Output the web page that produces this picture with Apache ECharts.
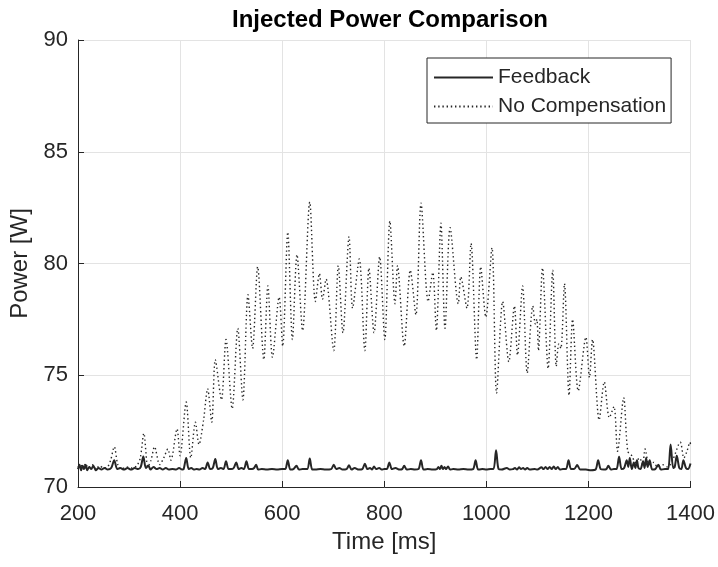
<!DOCTYPE html>
<html>
<head>
<meta charset="utf-8">
<script src="https://cdn.jsdelivr.net/npm/echarts@6/dist/echarts.min.js"></script>
<style>html,body{margin:0;padding:0;background:#fff}#c{width:718px;height:567px}</style>
</head>
<body>
<div id="c"></div>
<script>
const titleText = 'Injected Power Comparison';
const xName = 'Time [ms]';
const yName = 'Power [W]';
const seriesNames = ['Feedback', 'No Compensation'];
const xTicks = [200, 400, 600, 800, 1000, 1200, 1400];
const yTicks = [70, 75, 80, 85, 90];

const feedback = [
[200,70.8],[203,71.0],[206,70.75],[209,70.95],[212,70.8],[215,71.0],[218,70.75],[222,70.9],[226,70.8],[230,70.95],[235,70.75],[240,70.85],[246,70.78],[252,70.85],[258,70.78],[265,70.85],[271,71.2],[277,70.8],[283,70.85],[290,70.78],[297,70.85],[304,70.78],[311,70.85],[318,70.8],[323,70.9],[328,71.37],[333,70.85],[338,70.95],[342,70.78],[348,70.9],[354,70.8],[360,70.85],[366,70.78],[372,70.85],[378,70.78],[385,70.8],[392,70.78],[398,70.85],[404,70.78],[407,70.8],[412,71.3],[417,70.8],[422,70.85],[427,70.78],[432,70.8],[438,70.78],[444,70.85],[449,70.8],[454,71.1],[459,70.8],[464,70.85],[469,71.25],[474,70.8],[480,70.85],[485,70.8],[490,71.15],[495,70.8],[500,70.8],[505,70.85],[510,71.1],[515,70.8],[520,70.85],[525,70.8],[530,71.15],[535,70.8],[541,70.8],[545,70.85],[549,71.0],[553,70.78],[560,70.8],[570,70.78],[580,70.8],[590,70.78],[600,70.8],[606,70.8],[611,71.2],[616,70.78],[622,70.8],[628,70.95],[633,70.78],[640,70.8],[649,70.8],[654,71.27],[659,70.78],[665,70.78],[675,70.8],[685,70.78],[696,70.8],[701,71.0],[706,70.8],[712,70.85],[718,70.78],[726,70.8],[731,70.97],[736,70.78],[742,70.85],[750,70.78],[757,70.8],[762,71.04],[767,70.8],[772,70.85],[776,70.78],[780,70.92],[784,70.8],[790,70.85],[795,70.78],[800,70.8],[805,70.8],[810,71.1],[815,70.8],[822,70.85],[830,70.78],[835,70.8],[839,70.95],[844,70.78],[852,70.8],[860,70.78],[867,70.8],[872,71.2],[877,70.78],[885,70.8],[895,70.78],[903,70.8],[906,70.9],[909,70.8],[912,70.95],[915,70.8],[918,70.9],[921,70.8],[925,70.92],[929,70.78],[935,70.8],[945,70.78],[955,70.8],[965,70.78],[974,70.8],[979,71.2],[984,70.78],[992,70.8],[1000,70.78],[1008,70.8],[1014,70.8],[1019,71.64],[1024,70.8],[1030,70.78],[1040,70.85],[1046,70.78],[1052,70.8],[1056,70.85],[1060,70.78],[1064,70.88],[1068,70.8],[1072,70.85],[1076,70.78],[1080,70.85],[1085,70.78],[1095,70.8],[1100,70.78],[1108,70.88],[1112,70.8],[1116,70.9],[1120,70.8],[1124,70.9],[1128,70.8],[1132,70.92],[1136,70.8],[1140,70.9],[1144,70.78],[1150,70.8],[1156,70.8],[1161,71.2],[1166,70.8],[1172,70.8],[1178,70.98],[1184,70.78],[1195,70.78],[1205,70.75],[1214,70.78],[1219,71.2],[1224,70.8],[1230,70.78],[1235,70.8],[1239,70.95],[1244,70.78],[1250,70.8],[1255,70.8],[1260,71.35],[1265,70.8],[1270,70.85],[1275,71.2],[1278,70.9],[1281,71.3],[1285,70.8],[1289,71.1],[1292,70.85],[1295,71.2],[1298,70.85],[1302,70.8],[1307,71.15],[1310,70.85],[1313,71.3],[1316,70.9],[1320,71.2],[1325,70.78],[1331,70.8],[1337,71.0],[1342,70.78],[1350,70.8],[1356,70.8],[1361,71.9],[1366,70.85],[1369,70.9],[1373,71.4],[1378,70.85],[1382,70.8],[1386,71.2],[1391,70.85],[1395,70.8],[1400,71.05]
];

const noCompensation = [
[200,70.9],[205,71.0],[210,70.8],[215,71.05],[220,70.85],[228,71.0],[235,70.8],[242,70.95],[250,70.85],[258,70.9],[264,71.2],[271,71.8],[278,71.0],[285,70.8],[295,70.9],[305,70.85],[315,70.95],[322,71.3],[329,72.4],[337,70.9],[343,71.2],[350,71.8],[360,71.0],[368,71.3],[376,71.7],[382,71.2],[394,72.6],[400,71.4],[412,73.8],[421,71.3],[430,72.9],[437,71.9],[446,73.0],[454,74.4],[462,72.9],[469,75.7],[481,73.9],[490,76.6],[502,73.5],[513,77.1],[523,73.9],[533,78.6],[542,76.2],[552,79.85],[564,75.7],[572,79.0],[581,75.8],[594,78.5],[601,76.3],[611,81.4],[620,76.6],[629,80.4],[640,77.0],[654,82.75],[665,78.3],[673,79.55],[679,78.4],[686,79.3],[701,76.1],[710,79.9],[719,76.9],[731,81.2],[738,78.0],[751,80.2],[762,76.1],[770,79.8],[780,76.9],[791,80.3],[801,76.6],[811,81.9],[821,78.2],[826,79.9],[839,76.3],[851,79.7],[862,77.7],[872,82.7],[886,78.3],[895,79.6],[902,77.0],[911,81.8],[919,77.1],[929,81.6],[945,78.2],[950,79.4],[962,78.0],[970,80.9],[981,75.7],[989,79.85],[999,77.6],[1011,80.7],[1020,74.2],[1032,78.3],[1044,75.6],[1055,78.1],[1061,75.9],[1071,79.0],[1080,75.1],[1091,78.1],[1096,77.3],[1099,77.5],[1102,76.1],[1110,79.8],[1121,75.3],[1130,79.7],[1137,75.4],[1142,76.4],[1146,76.2],[1153,79.1],[1162,74.1],[1169,77.5],[1180,74.3],[1195,76.7],[1202,74.9],[1208,76.6],[1221,73.0],[1231,74.7],[1241,73.1],[1250,73.6],[1257,71.6],[1269,74.0],[1277,71.6],[1285,71.4],[1292,71.1],[1300,71.3],[1306,71.0],[1311,71.7],[1319,71.0],[1328,71.1],[1335,70.9],[1345,71.0],[1355,70.9],[1365,71.2],[1380,72.0],[1387,71.3],[1393,71.6],[1399,72.0],[1400,71.9]
];

const FONT = 'Liberation Sans';
const INK = '#262626';
const chart = echarts.init(document.getElementById('c'), null, {renderer: 'canvas'});
chart.setOption({
  animation: false,
  backgroundColor: '#ffffff',
  textStyle: {fontFamily: FONT, color: INK},
  title: {
    text: titleText, left: 385, top: 3, textAlign: 'center',
    textStyle: {fontFamily: FONT, fontSize: 24, fontWeight: 'bold', color: '#000'}
  },
  grid: {left: 78, right: 25.5, top: 40, bottom: 80, containLabel: false},
  legend: {
    orient: 'vertical', left: 427, top: 58,
    data: seriesNames,
    itemWidth: 59, itemHeight: 12, itemGap: 8,
    padding: [9, 5, 6, 6],
    itemStyle: {opacity: 0},
    borderColor: INK, borderWidth: 1, backgroundColor: '#fff',
    textStyle: {fontFamily: FONT, fontSize: 21, color: INK}
  },
  xAxis: {
    type: 'value', min: xTicks[0], max: xTicks[xTicks.length-1], interval: 200,
    name: xName, nameLocation: 'middle', nameGap: 42,
    nameTextStyle: {fontFamily: FONT, fontSize: 24, color: INK},
    axisLine: {show: true, lineStyle: {color: INK, width: 1}},
    axisTick: {show: true, inside: true, length: 6, lineStyle: {color: INK}},
    axisLabel: {fontFamily: FONT, fontSize: 22, color: INK, margin: 16, formatter: v => String(v)},
    splitLine: {show: true, lineStyle: {color: '#e3e3e3', width: 1}}
  },
  yAxis: {
    type: 'value', min: yTicks[0], max: yTicks[yTicks.length-1], interval: 5,
    name: yName, nameLocation: 'middle', nameGap: 38, nameRotate: 90,
    nameTextStyle: {fontFamily: FONT, fontSize: 24, color: INK},
    axisLine: {show: true, lineStyle: {color: INK, width: 1}},
    axisTick: {show: true, inside: true, length: 6, lineStyle: {color: INK}},
    axisLabel: {fontFamily: FONT, fontSize: 22, color: INK, margin: 10, formatter: v => String(v)},
    splitLine: {show: true, lineStyle: {color: '#e3e3e3', width: 1}}
  },
  series: [
    {
      name: seriesNames[0], type: 'line', data: feedback, showSymbol: false, symbol: 'none',
      smooth: 0.3, lineStyle: {color: INK, width: 2}, itemStyle: {color: INK}, z: 3
    },
    {
      name: seriesNames[1], type: 'line', data: noCompensation, showSymbol: false, symbol: 'none',
      smooth: 0.3, lineStyle: {color: INK, width: 1.4, type: [1.4, 2.8]}, itemStyle: {color: INK}, z: 2
    }
  ]
});
</script>
</body>
</html>
